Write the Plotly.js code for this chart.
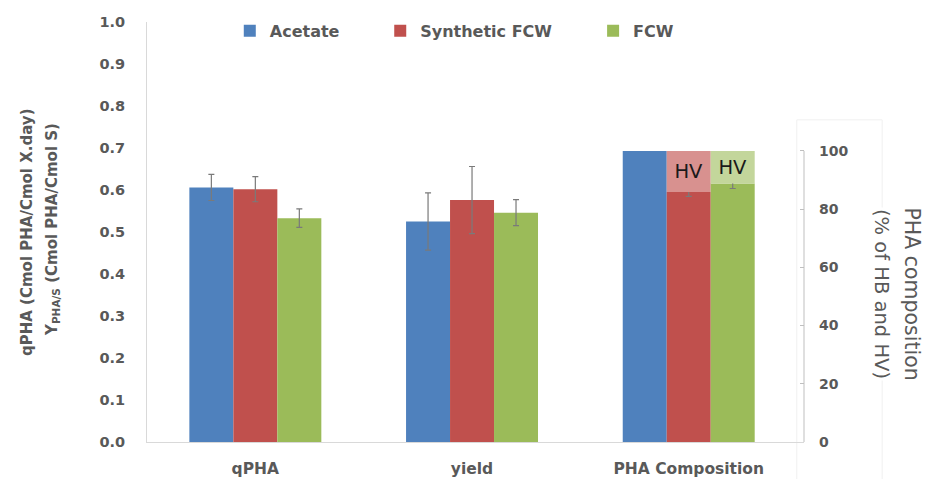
<!DOCTYPE html>
<html>
<head>
<meta charset="utf-8">
<script src="https://cdn.plot.ly/plotly-3.0.1.min.js"></script>
<style>html,body{margin:0;padding:0;background:#fff;}#chart{width:927px;height:479px;}</style>
</head>
<body>
<div id="chart"></div>
<script>
// Categories
const categories = ['qPHA', 'yield', 'PHA Composition'];
const metricCats = ['qPHA', 'yield'];
const compCats = ['PHA Composition'];
const seriesNames = ['Acetate', 'Synthetic FCW', 'FCW'];

// Left axis values (qPHA, yield)
const acetateVals = [0.606, 0.525];
const acetateErr = [0.031, 0.068];
const syntheticVals = [0.602, 0.576];
const syntheticErr = [0.030, 0.080];
const fcwVals = [0.533, 0.546];
const fcwErr = [0.022, 0.031];

// Right axis values (PHA composition, % of HB and HV)
const acetateHB = [100];
const syntheticHB = [85.9];
const syntheticHBErr = [1.5];
const syntheticHV = [14.1];
const fcwHB = [88.8];
const fcwHBErr = [1.7];
const fcwHV = [11.2];
const hvLabel = ['HV'];

const leftTicks = [0, 0.1, 0.2, 0.3, 0.4, 0.5, 0.6, 0.7, 0.8, 0.9, 1.0];
const rightTicks = [0, 20, 40, 60, 80, 100];

const BLUE = '#4F81BD', RED = '#C0504D', GREEN = '#9BBB59';
const RED_L = '#D8918F', GREEN_L = '#C3D69B';
const GREY = '#595959';
const FONT = 'DejaVu Sans, Verdana, sans-serif';
const errStyle = (arr) => ({type: 'data', array: arr, visible: true, color: '#7a7a7a', thickness: 1.2, width: 3});

const common = {type: 'bar', alignmentgroup: 'g', hoverinfo: 'skip', marker: {line: {width: 0}}};
const hvFont = {family: FONT, size: 19.5, color: '#1a1a1a'};

const traces = [
  Object.assign({}, common, {name: seriesNames[0], x: metricCats, y: acetateVals, yaxis: 'y', offsetgroup: 'a',
    marker: {color: BLUE}, error_y: errStyle(acetateErr), legend: 'legend'}),
  Object.assign({}, common, {name: seriesNames[1], x: metricCats, y: syntheticVals, yaxis: 'y', offsetgroup: 's',
    marker: {color: RED}, error_y: errStyle(syntheticErr), legend: 'legend2'}),
  Object.assign({}, common, {name: seriesNames[2], x: metricCats, y: fcwVals, yaxis: 'y', offsetgroup: 'f',
    marker: {color: GREEN}, error_y: errStyle(fcwErr), legend: 'legend3'}),

  Object.assign({}, common, {name: seriesNames[0], x: compCats, y: acetateHB, yaxis: 'y2', offsetgroup: 'a',
    marker: {color: BLUE}, showlegend: false}),
  Object.assign({}, common, {name: seriesNames[1] + ' HB', x: compCats, y: syntheticHB, yaxis: 'y2', offsetgroup: 's',
    marker: {color: RED}, error_y: errStyle(syntheticHBErr), showlegend: false}),
  Object.assign({}, common, {name: seriesNames[1] + ' HV', x: compCats, y: syntheticHV, base: syntheticHB, yaxis: 'y2', offsetgroup: 's',
    marker: {color: RED_L}, showlegend: false, text: hvLabel, textposition: 'inside', insidetextanchor: 'middle',
    textangle: 0, textfont: hvFont}),
  Object.assign({}, common, {name: seriesNames[2] + ' HB', x: compCats, y: fcwHB, yaxis: 'y2', offsetgroup: 'f',
    marker: {color: GREEN}, error_y: errStyle(fcwHBErr), showlegend: false}),
  Object.assign({}, common, {name: seriesNames[2] + ' HV', x: compCats, y: fcwHV, base: fcwHB, yaxis: 'y2', offsetgroup: 'f',
    marker: {color: GREEN_L}, showlegend: false, text: hvLabel, textposition: 'inside', insidetextanchor: 'middle',
    textangle: 0, textfont: hvFont})
];

const legendBase = {orientation: 'h', yanchor: 'middle', xanchor: 'left', y: 0.979, bgcolor: 'rgba(0,0,0,0)',
  font: {family: FONT, size: 16, color: GREY, weight: 'bold'}};

const layout = {
  width: 927, height: 479,
  margin: {l: 147, r: 123, t: 22, b: 37, pad: 0},
  paper_bgcolor: '#ffffff', plot_bgcolor: '#ffffff',
  barmode: 'group', bargap: 0.391, bargroupgap: 0, uniformtext: {mode: false},
  font: {family: FONT, color: GREY},
  showlegend: true,
  legend: Object.assign({}, legendBase, {x: 0.126}),
  legend2: Object.assign({}, legendBase, {x: 0.355}),
  legend3: Object.assign({}, legendBase, {x: 0.679}),
  xaxis: {type: 'category', categoryorder: 'array', categoryarray: categories, range: [-0.5, 2.532],
    showline: true, linecolor: '#d9d9d9', linewidth: 1, ticks: '', showgrid: false, zeroline: false,
    tickfont: {family: FONT, size: 15.5, color: GREY, weight: 'bold'}, ticklabelstandoff: 12},
  yaxis: {range: [0, 1.0], tickvals: leftTicks, tickformat: '.1f', showgrid: false, zeroline: false,
    showline: true, linecolor: '#d9d9d9', linewidth: 1, ticks: '',
    tickfont: {family: FONT, size: 14.5, color: GREY, weight: 'bold'}, ticklabelstandoff: 18},
  yaxis2: {overlaying: 'y', side: 'right', range: [0, 144.3], tickvals: rightTicks, showgrid: false, zeroline: false,
    showline: false, ticks: 'inside', ticklen: 4, tickcolor: '#bfbfbf',
    tickfont: {family: FONT, size: 14, color: GREY, weight: 'bold'}, ticklabelstandoff: 14},
  shapes: [
    {type: 'rect', xref: 'paper', yref: 'paper', x0: 0.989, x1: 1.119, y0: -0.09, y1: 0.767,
      line: {color: '#f0f0f0', width: 1}, layer: 'below'},
    {type: 'line', xref: 'paper', yref: 'y2', x0: 1, x1: 1, y0: 0, y1: 100,
      line: {color: '#bfbfbf', width: 1}}
  ],
  annotations: [
    {xref: 'paper', yref: 'paper', x: -0.1826, y: 0.5, xanchor: 'center', yanchor: 'middle', textangle: -90,
      showarrow: false, text: 'qPHA (Cmol PHA/Cmol X.day)', font: {family: FONT, size: 15, color: GREY, weight: 'bold'}},
    {xref: 'paper', yref: 'paper', x: -0.143, y: 0.505, xanchor: 'center', yanchor: 'middle', textangle: -90,
      showarrow: false, text: 'Y<sub>PHA/S</sub> (Cmol PHA/Cmol S)', font: {family: FONT, size: 15, color: GREY, weight: 'bold'}},
    {xref: 'paper', yref: 'paper', x: 1.164, y: 0.352, xanchor: 'center', yanchor: 'middle', textangle: 90,
      showarrow: false, text: 'PHA composition', font: {family: FONT, size: 20.5, color: GREY}},
    {xref: 'paper', yref: 'paper', x: 1.119, y: 0.352, xanchor: 'center', yanchor: 'middle', textangle: 90,
      showarrow: false, text: '(% of HB and HV)', font: {family: FONT, size: 19.5, color: GREY}, bgcolor: '#ffffff'}
  ]
};

Plotly.newPlot('chart', traces, layout, {displayModeBar: false, staticPlot: true});
</script>
</body>
</html>
